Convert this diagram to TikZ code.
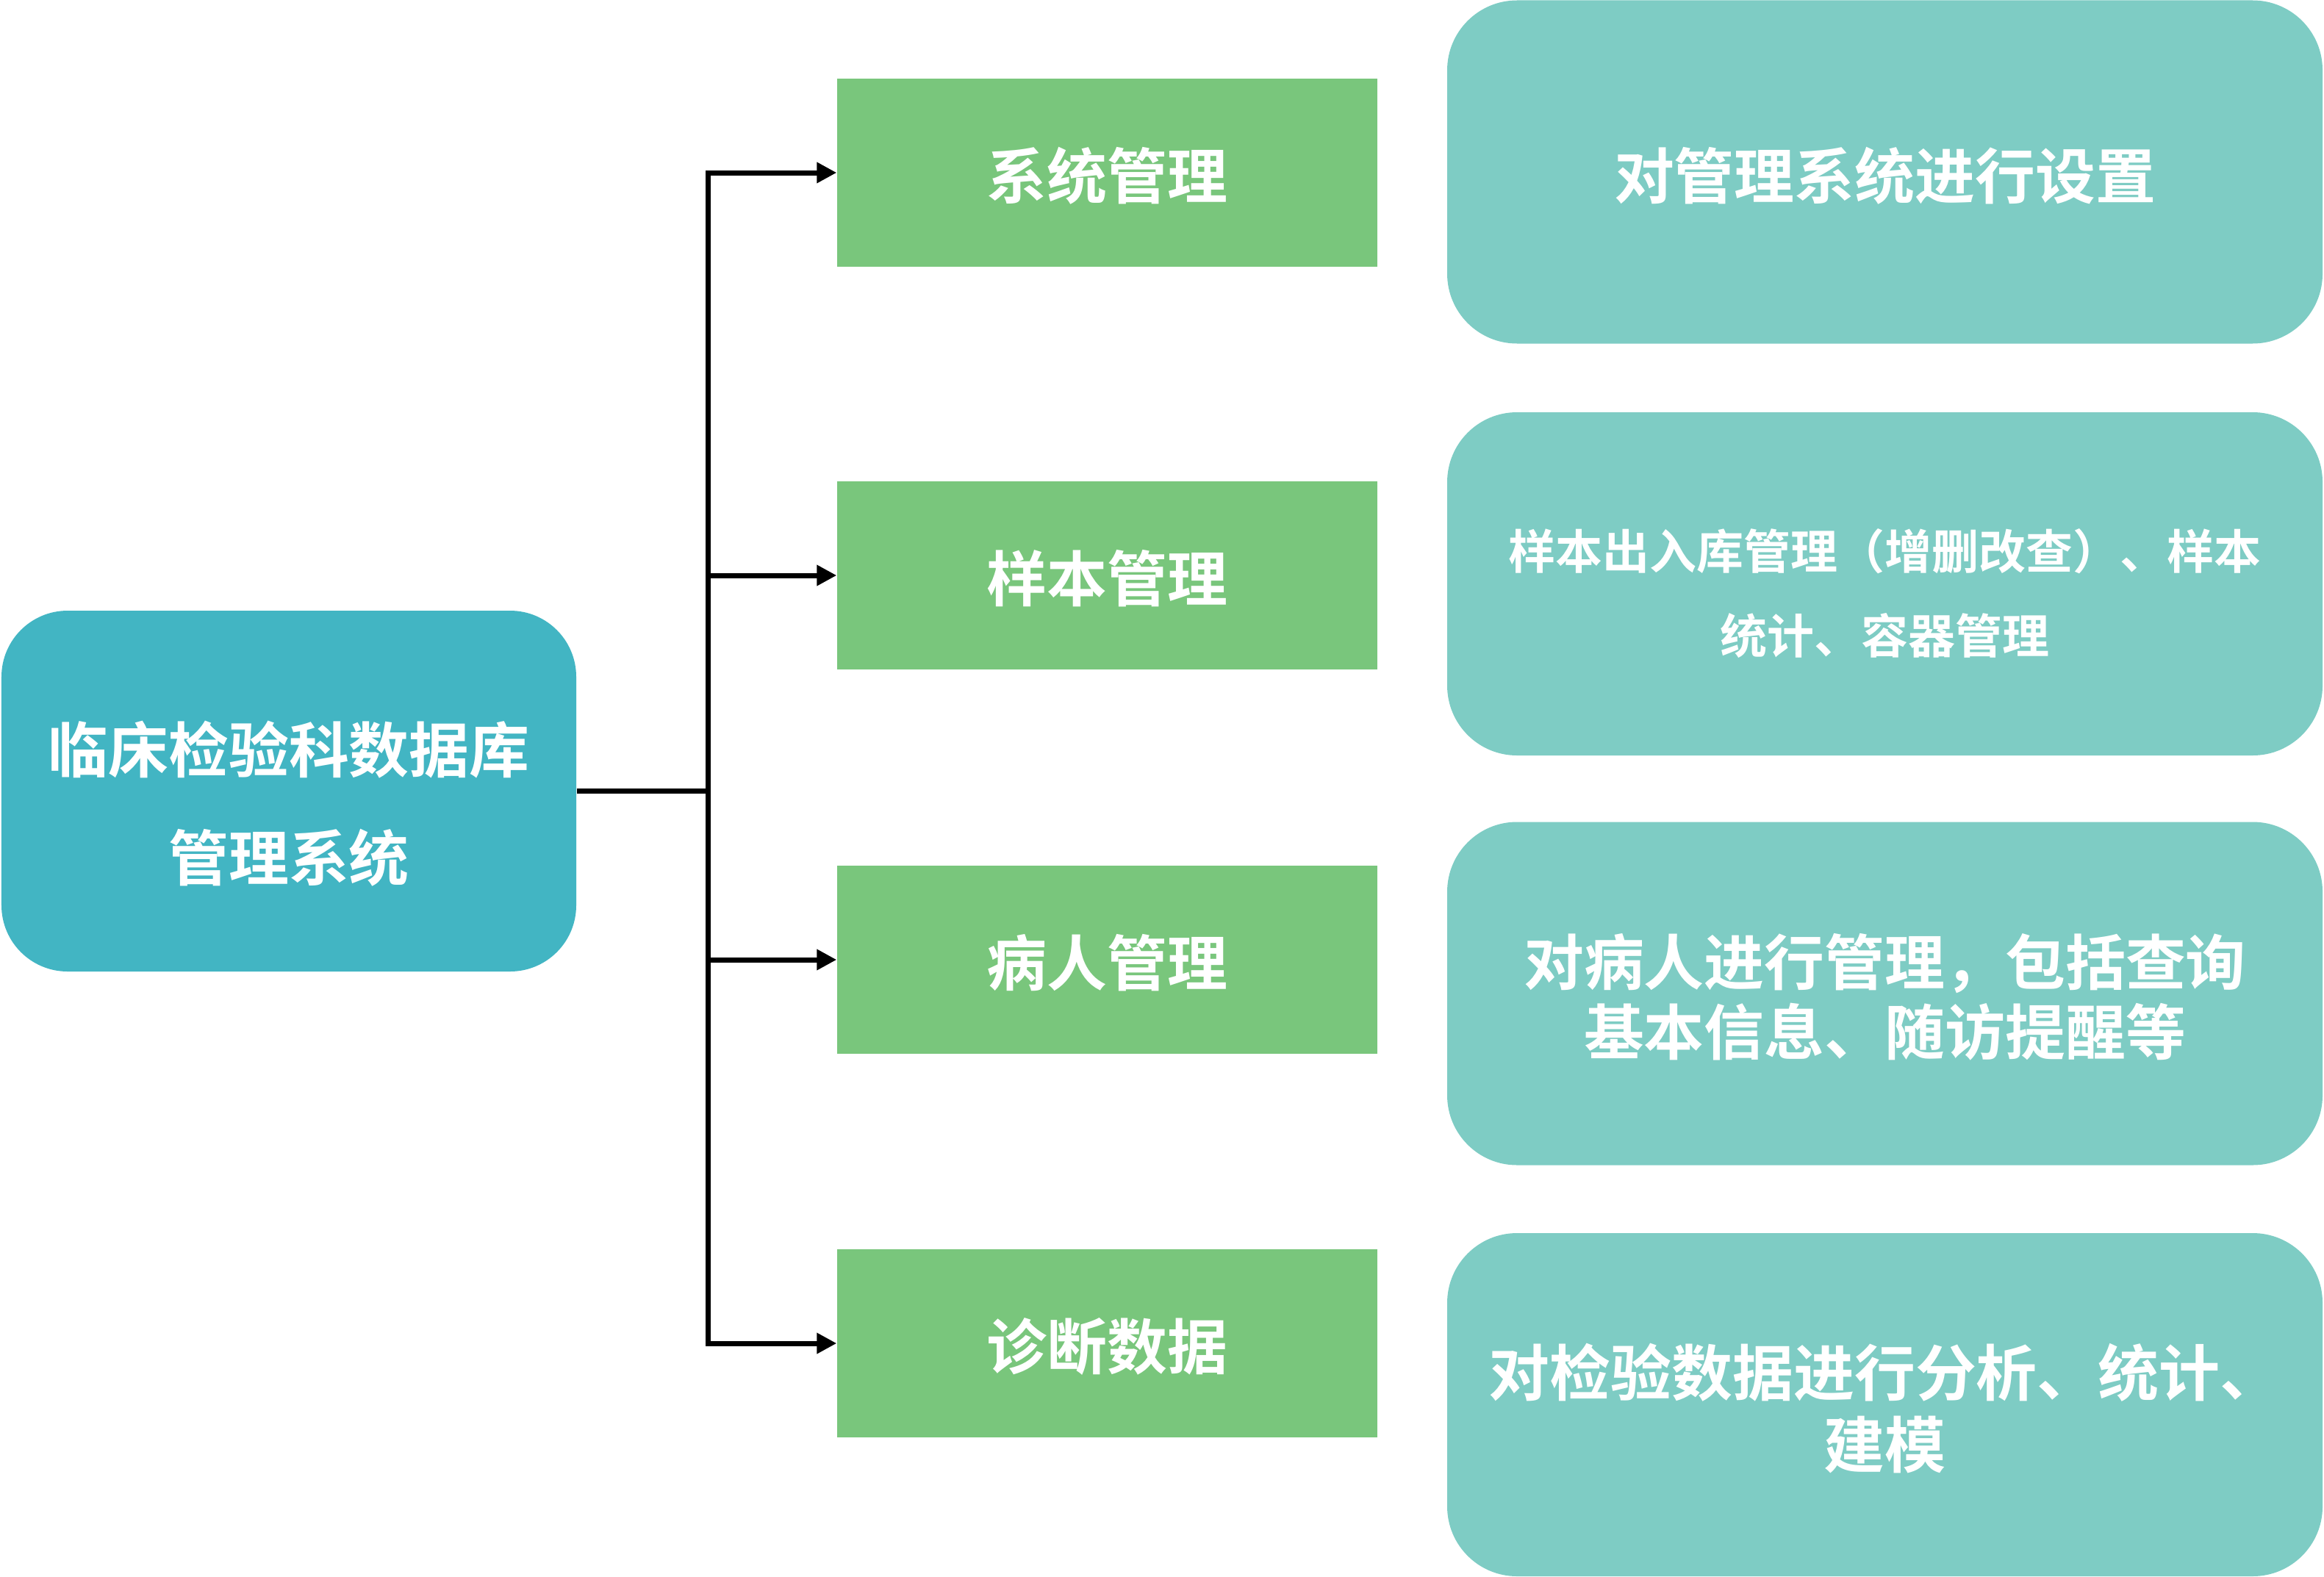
\documentclass[tikz,border=0pt]{standalone}
\usepackage{fontspec}
\setmainfont{Noto Sans CJK SC Bold}
\usetikzlibrary{arrows.meta}
\definecolor{rootfill}{RGB}{66,181,195}
\definecolor{modfill}{RGB}{121,198,124}
\definecolor{descfill}{RGB}{126,204,196}
\tikzset{
  boxtext/.style={text=white, align=center, inner sep=0pt},
  rootbox/.style={rectangle, rounded corners=0.9cm, fill=rootfill,
    minimum width=7.82cm, minimum height=4.91cm, inner sep=0pt},
  modbox/.style={rectangle, fill=modfill,
    minimum width=7.35cm, minimum height=2.56cm, inner sep=0pt},
  descbox/.style={rectangle, rounded corners=0.95cm, fill=descfill,
    minimum width=11.91cm, minimum height=4.67cm, inner sep=0pt},
  link/.style={line width=0.07cm, black},
  linkarrow/.style={link, -{Triangle[length=0.27cm, width=0.27cm]}}
}
\begin{document}
\begin{tikzpicture}
\useasboundingbox (0,0) rectangle (31.62,-21.45);

% root system
\node[rootbox, label={[boxtext, yshift=-0.17cm,
    font=\fontsize{23.3pt}{42pt}\selectfont]center:临床检验科数据库\\管理系统}]
  (root) at (3.93,-10.765) {};

% modules
\foreach \n/\y/\t in {m1/-2.35/系统管理, m2/-7.83/样本管理,
                      m3/-13.06/病人管理, m4/-18.28/诊断数据}
  \node[modbox, label={[boxtext, yshift=-0.04cm,
      font=\fontsize{23.3pt}{28pt}\selectfont]center:\t}]
    (\n) at (15.065,\y) {};

% descriptions
\node[descbox, label={[boxtext, yshift=-0.05cm,
    font=\fontsize{23.3pt}{28pt}\selectfont]center:对管理系统进行设置}]
  (d1) at (25.645,-2.34) {};
\node[descbox, label={[boxtext, yshift=-0.13cm,
    font=\fontsize{18.2pt}{32.7pt}\selectfont]center:样本出入库管理（增删改查）、样本\\统计、容器管理}]
  (d2) at (25.645,-7.945) {};
\node[descbox, label={[boxtext, yshift=-0.05cm,
    font=\fontsize{23.3pt}{27pt}\selectfont]center:对病人进行管理，包括查询\\基本信息、随访提醒等}]
  (d3) at (25.645,-13.52) {};
\node[descbox, label={[boxtext, yshift=-0.05cm,
    font=\fontsize{23.6pt}{27.9pt}\selectfont]center:对检验数据进行分析、统计、\\建模}]
  (d4) at (25.645,-19.115) {};

% branching connectors
\coordinate (trunk) at (9.63,-10.765);
\draw[link] (root.east) -- (trunk);
\foreach \m in {m1,m2,m3,m4}
  \draw[linkarrow] (trunk) |- (\m.west);
\end{tikzpicture}
\end{document}
